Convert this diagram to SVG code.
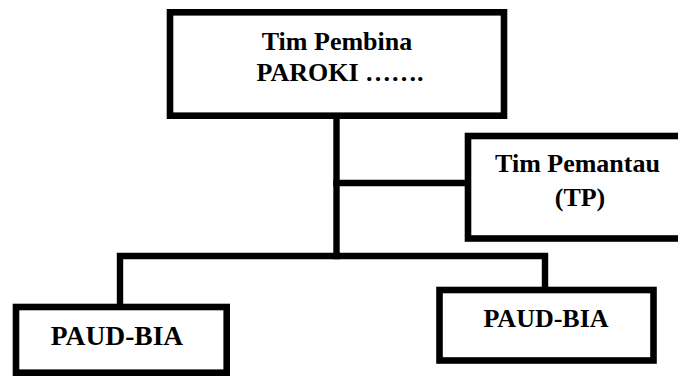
<svg xmlns="http://www.w3.org/2000/svg" width="678" height="378" viewBox="0 0 678 378">
<style>
.box{fill:#fff;stroke:#000;stroke-width:6.6}
.ln{fill:none;stroke:#000;stroke-width:6.4;stroke-linecap:square}
text{font-family:"Liberation Serif","Times New Roman",serif;font-weight:bold;fill:#000;text-anchor:middle}
</style>
<rect width="678" height="378" fill="#fff"/>
<g id="connectors">
<line class="ln" x1="336.5" y1="116" x2="336.5" y2="256"/>
<line class="ln" x1="336.5" y1="183" x2="468" y2="183"/>
<polyline class="ln" points="120,307 120,256 545,256 545,290"/>
</g>
<g id="tim-pembina">
<rect class="box" x="170" y="12.3" width="334" height="103.4"/>
<text x="337" y="50" font-size="26">Tim Pembina</text>
<text x="340" y="81" font-size="26">PAROKI …….</text>
</g>
<g id="tim-pemantau">
<rect class="box" x="468" y="136" width="230" height="102.5"/>
<text x="577.5" y="171.5" font-size="26">Tim Pemantau</text>
<text x="580" y="206" font-size="26">(TP)</text>
</g>
<g id="paud-bia-left">
<rect class="box" x="16" y="307" width="210.7" height="65.7"/>
<text x="117" y="345" font-size="27.5">PAUD-BIA</text>
</g>
<g id="paud-bia-right">
<rect class="box" x="439.5" y="290" width="214" height="70.5"/>
<text x="546" y="327" font-size="26">PAUD-BIA</text>
</g>
</svg>
